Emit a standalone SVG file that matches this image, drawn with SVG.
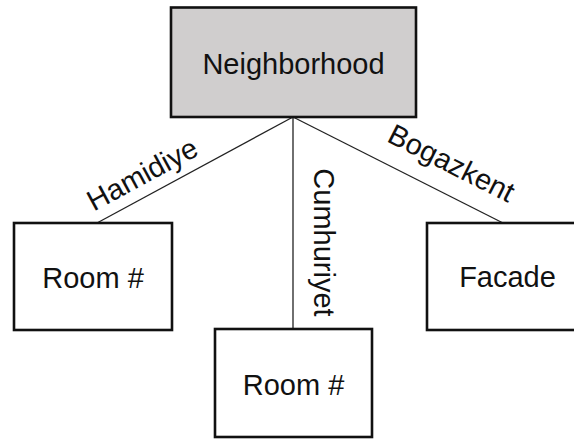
<svg xmlns="http://www.w3.org/2000/svg" width="574" height="441" viewBox="0 0 574 441">
  <style>
    .box { fill: #ffffff; stroke: #111111; stroke-width: 2.6; }
    .root { fill: #d0cece; }
    .label { font-family: "Liberation Sans", Arial, sans-serif; font-size: 29px; fill: #111111; }
    .edge { stroke: #222222; stroke-width: 1.3; fill: none; }
  </style>
  <rect width="574" height="441" fill="#ffffff"/>

  <!-- connectors from the neighborhood to its parts, with their labels -->
  <g id="connectors">
    <line class="edge" x1="293" y1="117" x2="97" y2="223"/>
    <line class="edge" x1="293" y1="117" x2="293" y2="329"/>
    <line class="edge" x1="293" y1="117" x2="503" y2="223"/>
    <text class="label" text-anchor="middle" transform="translate(147 183) rotate(-28.4)">Hamidiye</text>
    <text class="label" text-anchor="middle" transform="translate(314 242.5) rotate(90)">Cumhuriyet</text>
    <text class="label" text-anchor="middle" transform="translate(447 172) rotate(26.8)">Bogazkent</text>
  </g>

  <g id="neighborhood">
    <rect class="box root" x="171" y="7.5" width="245" height="109.5"/>
    <text class="label" x="293.5" y="74" text-anchor="middle">Neighborhood</text>
  </g>

  <g id="room-left">
    <rect class="box" x="14" y="223" width="158" height="107"/>
    <text class="label" x="93" y="288" text-anchor="middle">Room #</text>
  </g>

  <g id="room-bottom">
    <rect class="box" x="215" y="329" width="157" height="108"/>
    <text class="label" x="293.5" y="395" text-anchor="middle">Room #</text>
  </g>

  <g id="facade">
    <rect class="box" x="427" y="223" width="158" height="107"/>
    <text class="label" x="507.5" y="287" text-anchor="middle">Facade</text>
  </g>
</svg>
